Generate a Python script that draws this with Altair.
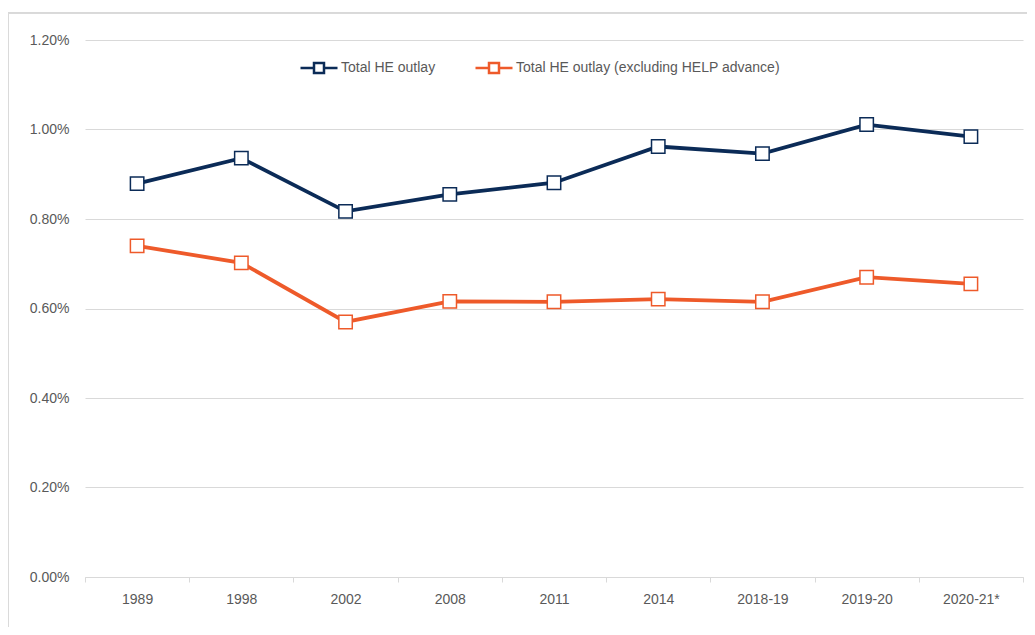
import altair as alt
import pandas as pd

years = ["1989", "1998", "2002", "2008", "2011", "2014", "2018-19", "2019-20", "2020-21*"]
total_he = [0.879, 0.936, 0.817, 0.855, 0.881, 0.962, 0.946, 1.011, 0.984]
excl_help = [0.740, 0.702, 0.570, 0.616, 0.615, 0.621, 0.615, 0.670, 0.655]
series_names = ["Total HE outlay", "Total HE outlay (excluding HELP advance)"]
series_colors = ["#0B2B57", "#EE5A2A"]
y_ticks = [0.0, 0.2, 0.4, 0.6, 0.8, 1.0, 1.2]

rows = []
for name, vals in zip(series_names, [total_he, excl_help]):
    for yr, v in zip(years, vals):
        rows.append({"year": yr, "series": name, "value": v})
df = pd.DataFrame(rows)

FONT = "Liberation Sans"
TXT = "#595959"
GRID = "#D9D9D9"
FS = 14

legend_path = ("M-1,0L-0.27,0M0.27,0L1,0"
               "M-0.27,-0.27L0.27,-0.27L0.27,0.27L-0.27,0.27Z")

x_enc = alt.X("year:N", sort=years, title=None,
              scale=alt.Scale(paddingInner=0, paddingOuter=0),
              axis=alt.Axis(labelAngle=0, tickBand="extent", domainColor=GRID,
                            tickColor=GRID, tickSize=5, labelPadding=10,
                            labelFontSize=FS, labelColor=TXT, labelFont=FONT,
                            grid=False))
y_enc = alt.Y("value:Q", title=None,
              scale=alt.Scale(domain=[0, 1.2], nice=False),
              axis=alt.Axis(values=y_ticks, labelExpr="format(datum.value, '.2f') + '%'",
                            domain=False, ticks=False, labelPadding=16,
                            labelFontSize=FS, labelColor=TXT, labelFont=FONT,
                            gridColor=GRID, gridWidth=1))
color_enc = alt.Color("series:N", sort=series_names,
                      scale=alt.Scale(domain=series_names, range=series_colors),
                      legend=alt.Legend(title=None, orient="none", direction="horizontal",
                                        legendX=214, legendY=8,
                                        symbolType=legend_path, symbolSize=1369,
                                        symbolStrokeWidth=2.5, symbolFillColor="white",
                                        labelFontSize=FS, labelColor=TXT, labelFont=FONT,
                                        labelOffset=2, columnPadding=34, labelLimit=0))

base = alt.Chart(df)
lines = base.mark_line(strokeWidth=3.8).encode(x=x_enc, y=y_enc, color=color_enc)
points = base.mark_point(shape="square", filled=False, fill="white", fillOpacity=1,
                         opacity=1, size=180, strokeWidth=1.5).encode(
    x=x_enc, y=y_enc, color=color_enc)

frame_left = alt.Chart(df).mark_rule(color=GRID, strokeWidth=1).encode(
    x=alt.value(-77), y=alt.value(-27), y2=alt.value(700))
frame_top = alt.Chart(df).mark_rule(color=GRID, strokeWidth=1).encode(
    x=alt.value(-77), x2=alt.value(1000), y=alt.value(-27))

chart = alt.layer(frame_left, frame_top, lines, points).properties(
    width=938, height=537,
    autosize=alt.AutoSizeParams(type="none"),
    padding={"left": 77, "top": 32, "right": 4, "bottom": 50},
).configure_view(strokeWidth=0)

chart.save("out.html", embed_options={"renderer": "svg", "actions": False})
